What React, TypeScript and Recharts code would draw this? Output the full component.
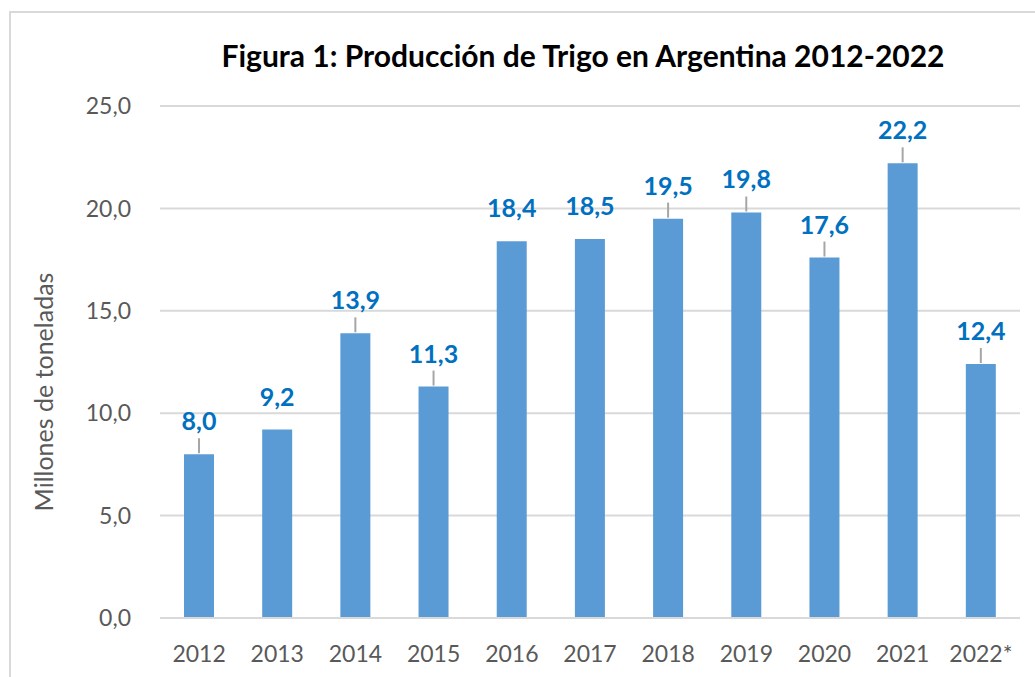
import React from 'react';
import { BarChart, Bar, XAxis, YAxis, CartesianGrid, LabelList } from 'recharts';

// Producción de trigo, millones de toneladas
const YEARS = ['2012', '2013', '2014', '2015', '2016', '2017', '2018', '2019', '2020', '2021', '2022*'];
const PRODUCTION = [8.0, 9.2, 13.9, 11.3, 18.4, 18.5, 19.5, 19.8, 17.6, 22.2, 12.4];
// labels that Excel moved away from the bar and joined with a leader line
const HAS_LEADER = [true, false, true, true, false, false, true, true, true, true, true];
const Y_TICKS = [0, 5, 10, 15, 20, 25];

const FONT = 'Lato, "Open Sans", sans-serif';
const BAR_COLOR = '#5B9BD5';
const LABEL_COLOR = '#0070C0';
const GRID_COLOR = '#D9D9D9';
const TICK_COLOR = '#595959';

const data = YEARS.map((year, i) => ({ year, value: PRODUCTION[i] }));

const fmt = (v: number) => v.toFixed(1).replace('.', ',');

const ValueLabel = (props: any) => {
  const { x, y, width, value, index } = props;
  const cx = Number(x) + Number(width) / 2;
  const top = Number(y);
  return (
    <g>
      {HAS_LEADER[index] && (
        <line x1={cx} y1={top - 1} x2={cx} y2={top - 16} stroke="#A6A6A6" strokeWidth={2} />
      )}
      <text
        x={cx}
        y={top - 34}
        textAnchor="middle"
        dominantBaseline="central"
        fill={LABEL_COLOR}
        fontFamily={FONT}
        fontWeight={700}
        fontSize={25}
      >
        {fmt(Number(value))}
      </text>
    </g>
  );
};

export default function App() {
  return (
    <div style={{ position: 'absolute', left: 0, top: 0, width: 1035, height: 677, background: '#fff', overflow: 'hidden' }}>
      {/* chart frame */}
      <div
        style={{
          position: 'absolute',
          left: 9,
          top: 11,
          width: 1040,
          height: 700,
          borderLeft: `2px solid ${GRID_COLOR}`,
          borderTop: `2px solid ${GRID_COLOR}`,
        }}
      />
      <div
        style={{
          position: 'absolute',
          left: 0,
          width: 1166,
          top: 37,
          textAlign: 'center',
          fontFamily: FONT,
          fontWeight: 700,
          fontSize: 30,
          lineHeight: '36px',
          color: '#000',
        }}
      >
        Figura 1: Producción de Trigo en Argentina 2012-2022
      </div>
      <div
        style={{
          position: 'absolute',
          left: 43,
          top: 392,
          transform: 'translate(-50%, -50%) rotate(-90deg)',
          whiteSpace: 'nowrap',
          fontFamily: FONT,
          fontSize: 25,
          lineHeight: '28px',
          color: TICK_COLOR,
        }}
      >
        Millones de toneladas
      </div>
      <div style={{ position: 'absolute', left: 0, top: 0 }}>
        <BarChart
          width={1035}
          height={677}
          data={data}
          margin={{ top: 106, right: 15, bottom: 19, left: 100 }}
        >
          <CartesianGrid vertical={false} stroke={GRID_COLOR} strokeWidth={2} />
          <XAxis
            dataKey="year"
            axisLine={{ stroke: GRID_COLOR, strokeWidth: 2 }}
            tickLine={false}
            height={40}
            tick={{ fill: TICK_COLOR, fontFamily: FONT, fontSize: 23 }}
            tickMargin={22}
            interval={0}
          />
          <YAxis
            domain={[0, 25]}
            ticks={Y_TICKS}
            tickFormatter={fmt}
            axisLine={false}
            tickLine={false}
            width={60}
            tickMargin={23}
            tick={{ fill: TICK_COLOR, fontFamily: FONT, fontSize: 23 }}
          />
          <Bar dataKey="value" fill={BAR_COLOR} barSize={30} isAnimationActive={false}>
            <LabelList dataKey="value" content={ValueLabel} />
          </Bar>
        </BarChart>
      </div>
    </div>
  );
}
